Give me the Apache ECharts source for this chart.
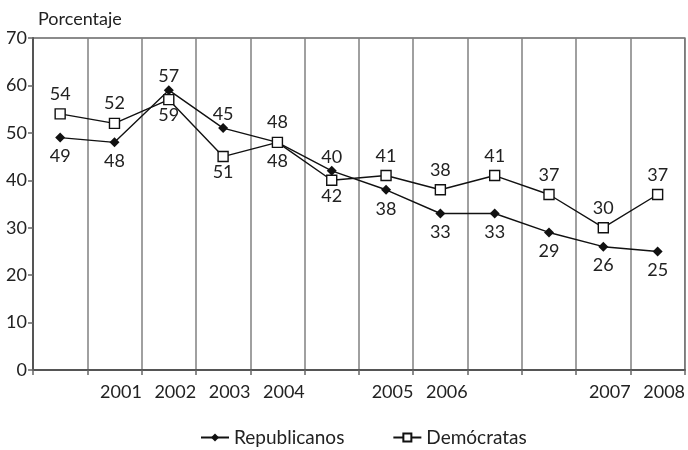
<!DOCTYPE html>
<html>
<head>
<meta charset="utf-8">
<script src="https://cdn.jsdelivr.net/npm/echarts@6/dist/echarts.min.js"></script>
<style>
  html, body { margin: 0; padding: 0; background: #fff; }
  #chart { width: 688px; height: 450px; }
</style>
</head>
<body>
<div id="chart"></div>
<script>
// categories: only some points carry a year label
const categories = ["", "2001", "2002", "2003", "2004", "", "2005", "2006", "", "", "2007", "2008"];
const republicanos = [49, 48, 59, 51, 48, 42, 38, 33, 33, 29, 26, 25];
const democratas = [54, 52, 57, 45, 48, 40, 41, 38, 41, 37, 30, 37];
const yTicks = { min: 0, max: 70, interval: 10 };

const font = "Lato";
const gridTop = 38;
const gridBottom = 80;
const chartHeight = 450;
const pxPerUnit = (chartHeight - gridTop - gridBottom) / (yTicks.max - yTicks.min);

// the "Demócratas" value always sits on top and the "Republicanos" value below,
// even where the republican marker is the higher one
const demData = democratas.map((v, i) => {
  const diff = republicanos[i] - v;
  if (diff <= 0) return v;
  return { value: v, label: { offset: [0, -diff * pxPerUnit + 6] } };
});
const repData = republicanos.map((v, i) => {
  const diff = v - democratas[i];
  if (diff <= 0) return v;
  return { value: v, label: { offset: [0, diff * pxPerUnit - 3] } };
});

const chart = echarts.init(document.getElementById("chart"));

const option = {
  animation: false,
  textStyle: { fontFamily: font },
  title: {
    text: "Porcentaje",
    left: 33,
    top: 5,
    textStyle: { fontFamily: font, fontSize: 18, fontWeight: "normal", color: "#222" }
  },
  grid: {
    left: 33,
    right: 3,
    top: gridTop,
    bottom: gridBottom,
    show: true,
    borderColor: "#666",
    borderWidth: 1.5
  },
  legend: {
    top: 428,
    left: 200,
    padding: 0,
    itemWidth: 28,
    itemHeight: 10,
    itemGap: 48,
    textStyle: { fontFamily: font, fontSize: 19, color: "#222" },
    data: ["Republicanos", "Demócratas"]
  },
  xAxis: {
    type: "category",
    data: categories,
    boundaryGap: true,
    axisLine: { lineStyle: { color: "#555", width: 2 } },
    axisTick: { show: true, interval: 0, length: 5, lineStyle: { color: "#666", width: 1.5 } },
    axisLabel: {
      interval: 0,
      margin: 13,
      fontSize: 18,
      color: "#222",
      fontFamily: font,
      padding: [0, 0, 0, 13]
    },
    splitLine: { show: true, interval: 0, lineStyle: { color: "#808080", width: 1.5 } }
  },
  yAxis: {
    type: "value",
    min: yTicks.min,
    max: yTicks.max,
    interval: yTicks.interval,
    axisLine: { show: true, lineStyle: { color: "#555", width: 2 } },
    axisTick: { show: true, length: 5, lineStyle: { color: "#666", width: 1.5 } },
    axisLabel: { margin: 6, fontSize: 18, color: "#222", fontFamily: font },
    splitLine: { show: false }
  },
  series: [
    {
      name: "Republicanos",
      type: "line",
      data: repData,
      symbol: "diamond",
      symbolSize: 10,
      itemStyle: { color: "#111" },
      lineStyle: { color: "#111", width: 1.4 },
      label: { show: true, position: "bottom", distance: 5, fontSize: 18, color: "#222", fontFamily: font }
    },
    {
      name: "Demócratas",
      type: "line",
      data: demData,
      symbol: "rect",
      symbolSize: 10,
      itemStyle: { color: "#fff", borderColor: "#111", borderWidth: 1.4 },
      lineStyle: { color: "#111", width: 1.4 },
      label: { show: true, position: "top", distance: 5, fontSize: 18, color: "#222", fontFamily: font }
    }
  ]
};

chart.setOption(option);
</script>
</body>
</html>
